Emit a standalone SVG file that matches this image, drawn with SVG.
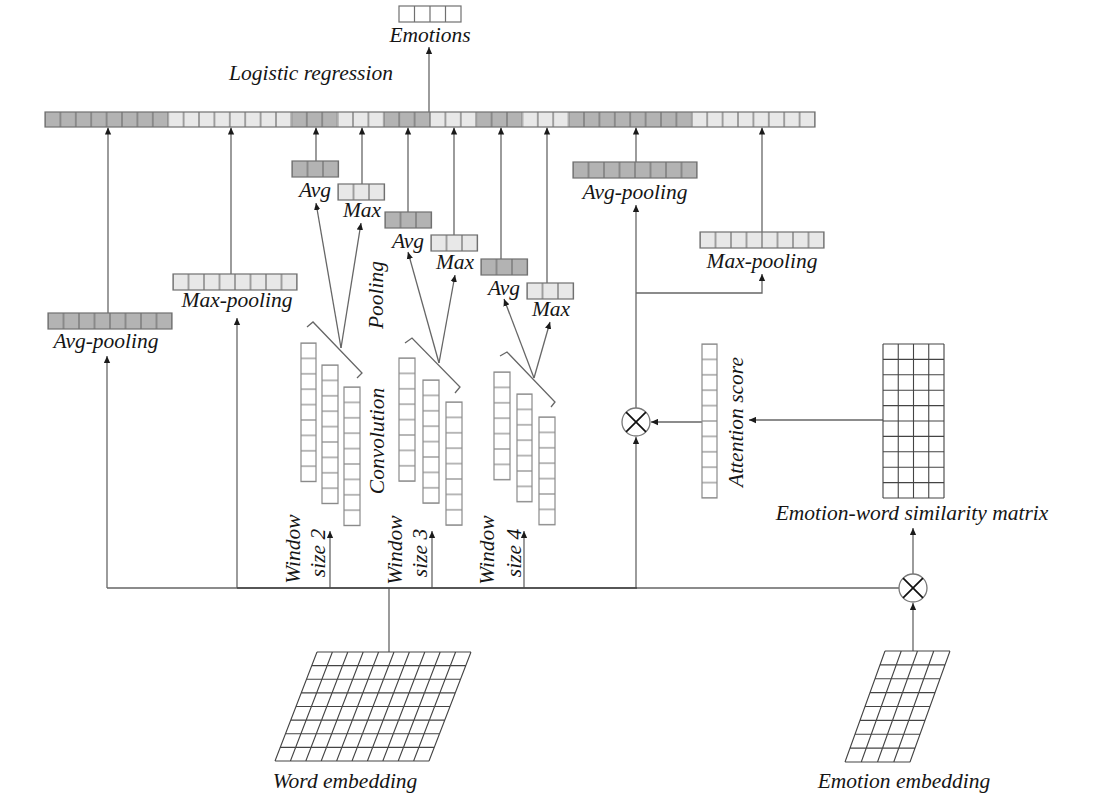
<svg xmlns="http://www.w3.org/2000/svg" width="1113" height="803" viewBox="0 0 1113 803">
<style>
text{font-family:"Liberation Serif","Times New Roman",serif;font-style:italic;font-size:21.5px;fill:#151515}
.m{text-anchor:middle}
.cb{stroke:#707070;stroke-width:1.2}
.col{fill:url(#vc);stroke:#8a8a8a;stroke-width:1.2}
.grid{fill:none;stroke:#444;stroke-width:1.1}
.ln{fill:none;stroke:#666;stroke-width:1.3}
.x{fill:none;stroke:#111;stroke-width:1.7}
.circ{fill:#fff;stroke:#777;stroke-width:1.3}
</style>
<defs>
<marker id="ah" viewBox="0 0 10 10" refX="10" refY="5" markerWidth="7" markerHeight="7" markerUnits="userSpaceOnUse" orient="auto"><path d="M0,0.5 L10,5 L0,9.5 z" fill="#1a1a1a"/></marker>
<pattern id="hd4" width="15.4" height="20" patternUnits="userSpaceOnUse"><rect width="15.4" height="20" fill="#b3b3b3"/><rect width="0.6" height="20" fill="#707070"/><rect x="14.8" width="0.6" height="20" fill="#707070"/></pattern>
<pattern id="hl4" width="15.4" height="20" patternUnits="userSpaceOnUse"><rect width="15.4" height="20" fill="#e8e8e8"/><rect width="0.6" height="20" fill="#707070"/><rect x="14.8" width="0.6" height="20" fill="#707070"/></pattern>
<pattern id="hd" width="15.5" height="20" patternUnits="userSpaceOnUse"><rect width="15.5" height="20" fill="#b3b3b3"/><rect width="0.6" height="20" fill="#707070"/><rect x="14.9" width="0.6" height="20" fill="#707070"/></pattern>
<pattern id="hl" width="15.5" height="20" patternUnits="userSpaceOnUse"><rect width="15.5" height="20" fill="#e8e8e8"/><rect width="0.6" height="20" fill="#707070"/><rect x="14.9" width="0.6" height="20" fill="#707070"/></pattern>
<pattern id="vc" width="20" height="15.4" patternUnits="userSpaceOnUse"><rect width="20" height="15.4" fill="#fff"/><rect width="20" height="0.6" fill="#8a8a8a"/><rect y="14.8" width="20" height="0.6" fill="#8a8a8a"/></pattern>
</defs>
<rect width="1113" height="803" fill="#fff"/>

<g id="connectors">
<g class="ln" marker-end="url(#ah)">
<path d="M108 313V127.5"/><path d="M231 274V127.5"/><path d="M316 161V127.5"/><path d="M362 184V127.5"/>
<path d="M408 212V127.5"/><path d="M454 235V127.5"/><path d="M501 259V127.5"/><path d="M547 283V127.5"/>
<path d="M636 162V127.5"/><path d="M762 232V127.5"/><path d="M429 112V47"/>
<path d="M107 588V356"/><path d="M237 588V318"/><path d="M330 588V531"/><path d="M432 588V531"/><path d="M524 588V531"/>
<path d="M636 588V437"/><path d="M636 408V205"/><path d="M636 293H762V274"/>
<path d="M883 420H749"/><path d="M702 422H651"/><path d="M913 651V603"/><path d="M913 574V528"/>
<path d="M341 348L316 203"/><path d="M341 348L361 223"/>
<path d="M439 363L408 252"/><path d="M439 363L455 275"/>
<path d="M534 378L504 299"/><path d="M534 378L550 322"/>
</g>
<path class="ln" d="M107 588H899M389 652V588"/>
<path d="M237 588H637" stroke="#444" stroke-width="1.6" fill="none"/>
<path class="ln" d="M307 327L313 322L362 373L357 378M405 343L412 338L460 387L455 393M500 356L507 352L555 402L551 407"/>
</g>

<g id="concat-vector" transform="translate(45,112)">
<rect x="0" y="0" width="123.2" height="15" fill="url(#hd4)"/>
<rect x="123.2" y="0" width="123.2" height="15" fill="url(#hl4)"/>
<rect x="246.4" y="0" width="46.2" height="15" fill="url(#hd4)"/>
<rect x="292.6" y="0" width="46.2" height="15" fill="url(#hl4)"/>
<rect x="338.8" y="0" width="46.2" height="15" fill="url(#hd4)"/>
<rect x="385" y="0" width="46.2" height="15" fill="url(#hl4)"/>
<rect x="431.2" y="0" width="46.2" height="15" fill="url(#hd4)"/>
<rect x="477.4" y="0" width="46.2" height="15" fill="url(#hl4)"/>
<rect x="523.6" y="0" width="123.2" height="15" fill="url(#hd4)"/>
<rect x="646.8" y="0" width="123.2" height="15" fill="url(#hl4)"/>
<rect x="0" y="0" width="770" height="15" fill="none" class="cb"/>
</g>
<text class="m" x="311" y="80">Logistic regression</text>

<g id="emotions">
<rect x="399" y="6" width="62" height="16" fill="#fff" class="cb"/>
<path d="M414.5 6v16M430 6v16M445.5 6v16" class="cb"/>
<text class="m" x="430" y="42">Emotions</text>
</g>

<g id="avg-pooling-left" transform="translate(48,313)">
<rect width="124" height="16" fill="url(#hd)" class="cb"/>
<text class="m" x="58" y="35">Avg-pooling</text>
</g>
<g id="max-pooling-left" transform="translate(173,274)">
<rect width="124" height="16" fill="url(#hl)" class="cb"/>
<text class="m" x="64" y="33">Max-pooling</text>
</g>
<g id="avg-pooling-right" transform="translate(573,162)">
<rect width="124" height="16" fill="url(#hd)" class="cb"/>
<text class="m" x="62" y="37">Avg-pooling</text>
</g>
<g id="max-pooling-right" transform="translate(700,232)">
<rect width="124" height="16" fill="url(#hl)" class="cb"/>
<text class="m" x="62" y="36">Max-pooling</text>
</g>

<g id="avg-w2" transform="translate(292,161)"><rect width="46.5" height="16" fill="url(#hd)" class="cb"/><text class="m" x="23" y="36">Avg</text></g>
<g id="max-w2" transform="translate(338,184)"><rect width="46.5" height="16" fill="url(#hl)" class="cb"/><text class="m" x="24" y="33">Max</text></g>
<g id="avg-w3" transform="translate(385,212)"><rect width="46.5" height="16" fill="url(#hd)" class="cb"/><text class="m" x="23" y="36">Avg</text></g>
<g id="max-w3" transform="translate(431,235)"><rect width="46.5" height="16" fill="url(#hl)" class="cb"/><text class="m" x="24" y="34">Max</text></g>
<g id="avg-w4" transform="translate(481,259)"><rect width="46.5" height="16" fill="url(#hd)" class="cb"/><text class="m" x="23" y="36">Avg</text></g>
<g id="max-w4" transform="translate(527,283)"><rect width="46.5" height="16" fill="url(#hl)" class="cb"/><text class="m" x="24" y="33">Max</text></g>

<text class="m" transform="translate(383,295) rotate(-90)">Pooling</text>
<text class="m" transform="translate(384,441) rotate(-90)">Convolution</text>

<g id="conv-w2">
<g transform="translate(301,343)"><rect width="15" height="138.6" class="col"/></g>
<g transform="translate(322,365)"><rect width="16" height="138.6" class="col"/></g>
<g transform="translate(344,387)"><rect width="16" height="138.6" class="col"/></g>
<text class="m" transform="translate(300,549) rotate(-90)">Window</text>
<text class="m" transform="translate(325,553) rotate(-90)">size 2</text>
</g>
<g id="conv-w3">
<g transform="translate(399,358)"><rect width="16" height="123.2" class="col"/></g>
<g transform="translate(423,380)"><rect width="16" height="123.2" class="col"/></g>
<g transform="translate(446,402)"><rect width="16" height="123.2" class="col"/></g>
<text class="m" transform="translate(402,550) rotate(-90)">Window</text>
<text class="m" transform="translate(427,553) rotate(-90)">size 3</text>
</g>
<g id="conv-w4">
<g transform="translate(494,372)"><rect width="16" height="107.8" class="col"/></g>
<g transform="translate(517,394)"><rect width="15" height="107.8" class="col"/></g>
<g transform="translate(539,417)"><rect width="16" height="107.8" class="col"/></g>
<text class="m" transform="translate(494,550) rotate(-90)">Window</text>
<text class="m" transform="translate(521,553) rotate(-90)">size 4</text>
</g>

<g id="attention-score">
<g transform="translate(702,344)"><rect width="15" height="154" class="col"/></g>
<text class="m" transform="translate(743,422) rotate(-90)">Attention score</text>
</g>

<g id="similarity-matrix">
<path class="grid" d="M883 344v154M898.25 344v154M913.5 344v154M928.75 344v154M944 344v154M883 344h61M883 359.4h61M883 374.8h61M883 390.2h61M883 405.6h61M883 421h61M883 436.4h61M883 451.8h61M883 467.2h61M883 482.6h61M883 498h61"/>
<text class="m" x="912" y="520">Emotion-word similarity matrix</text>
</g>

<g id="mul-attention"><circle cx="636" cy="422" r="14" class="circ"/><path class="x" d="M626.1 412.1L645.9 431.9M645.9 412.1L626.1 431.9"/></g>
<g id="mul-emotion"><circle cx="913" cy="588" r="14" class="circ"/><path class="x" d="M903.1 578.1L922.9 597.9M922.9 578.1L903.1 597.9"/></g>

<g id="word-embedding">
<path class="grid" d="M317 652h154M311.75 665.63h154M306.5 679.25h154M301.25 692.88h154M296 706.5h154M290.75 720.13h154M285.5 733.75h154M280.25 747.38h154M275 761h154M317 652l-42 109M332.4 652l-42 109M347.8 652l-42 109M363.2 652l-42 109M378.6 652l-42 109M394 652l-42 109M409.4 652l-42 109M424.8 652l-42 109M440.2 652l-42 109M455.6 652l-42 109M471 652l-42 109"/>
<text class="m" x="345" y="788">Word embedding</text>
</g>

<g id="emotion-embedding">
<path class="grid" d="M885 651h65M880 664.88h65M875 678.75h65M870 692.63h65M865 706.5h65M860 720.38h65M855 734.25h65M850 748.13h65M845 762h65M885 651l-40 111M901.25 651l-40 111M917.5 651l-40 111M933.75 651l-40 111M950 651l-40 111"/>
<text class="m" x="904" y="788">Emotion embedding</text>
</g>
</svg>
